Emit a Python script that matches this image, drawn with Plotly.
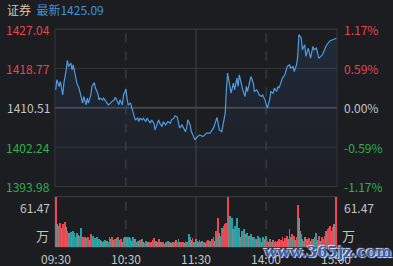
import plotly.graph_objects as go

# ---------------- data ----------------
price_minutes = [0,1,3,4,6,7,9,10,11,13,14,15,17,18,20,21,23,24,26,27,28,30,31,33,34,36,37,38,40,41,
                 43,44,45,47,48,50,51,52,54,55,57,58,60,61,62,64,65,67,68,70,71,72,74,75,77,78,79,81,82,84,
                 85,87,88,89,91,92,94,95,96,98,99,101,102,104,105,106,108,109,111,112,113,115,116,118,119,
                 120,123,126,128,129,132,135,138,139,140,142,143,145,146,147,149,150,152,153,155,156,157,159,
                 160,162,163,164,166,167,169,170,172,173,174,176,177,179,180,181,183,184,186,187,189,190,191,
                 193,194,196,197,198,200,201,203,204,206,207,208,210,211,213,214,216,217,218,220,221,223,224,
                 225,227,228,230,231,233,234,235,237,238,240]
prices = [1414.27,1416.38,1414.97,1416.02,1413.22,1415.68,1418.48,1420.44,1419.17,1419.89,1418.48,1419.53,
          1417.07,1415.68,1414.63,1413.58,1411.48,1412.87,1411.12,1412.53,1411.48,1413.22,1414.97,1415.81,
          1414.63,1413.58,1412.17,1412.53,1412.17,1412.53,1411.81,1411.48,1411.12,1411.48,1411.81,1412.17,
          1412.74,1412.17,1411.12,1412.17,1411.12,1413.22,1414.42,1412.53,1411.12,1411.48,1410.43,1409.02,
          1407.97,1408.32,1407.61,1408.32,1407.97,1408.32,1407.61,1408.32,1407.97,1407.27,1407.97,1407.27,
          1405.86,1407.61,1407.97,1407.27,1406.56,1407.61,1406.91,1407.27,1407.61,1407.27,1407.97,1408.32,
          1408.81,1408.53,1407.27,1406.22,1406.91,1406.43,1405.50,1406.22,1407.97,1406.91,1405.50,1404.45,
          1403.76,1404.12,1404.81,1404.45,1404.81,1405.17,1405.17,1406.28,1408.49,1407.27,1405.86,1405.50,
          1406.56,1409.37,1414.27,1417.79,1414.97,1413.58,1415.68,1414.27,1416.74,1414.97,1417.43,1415.33,
          1414.27,1412.87,1414.97,1413.92,1416.38,1417.07,1415.68,1413.92,1414.27,1413.58,1413.22,1412.87,
          1413.22,1412.17,1411.48,1410.43,1412.17,1413.92,1413.58,1414.63,1413.92,1414.97,1414.63,1416.02,
          1416.74,1417.43,1418.48,1419.17,1419.53,1418.84,1419.17,1418.12,1419.53,1421.28,1425.84,1425.15,
          1422.69,1423.74,1421.28,1423.04,1421.99,1420.94,1423.38,1422.69,1423.04,1421.64,1420.94,1421.28,
          1421.64,1422.69,1423.38,1424.10,1424.43,1424.64,1424.79,1424.94,1425.09]

volumes = [61.47,28,22,26,30,24,29,27,31,25,
           20,17,14,19,13,20,17,12,18,15,
           11,14,24,13,9,12,11,10,13,9,
           16,12,14,9,11,12,8,10,9,8,
           7,8,9,7,8,6,13,10,12,8,
           9,10,11,12,9,8,10,7,11,12,
           9,12,10,13,11,8,12,9,10,7,
           8,6,9,7,10,6,5,8,7,6,
           5,7,6,9,11,7,8,6,10,5,
           6,5,7,4,6,5,8,6,7,5,
           6,5,7,9,6,10,7,6,5,7,
           5,8,6,7,16,12,9,11,7,6,
           10,8,6,9,7,8,6,7,5,8,
           9,6,8,7,10,13,8,20,12,36,
           18,14,24,20,26,28,30,61.47,32,38,
           30,36,22,26,18,36,16,24,12,20,
           14,22,16,12,18,14,10,16,12,8,
           12,10,9,14,8,11,7,13,10,9,
           14,8,6,10,7,5,9,6,8,7,
           8,10,6,9,12,8,11,7,14,10,
           22,13,16,11,14,9,12,52,36,20,
           16,10,8,12,7,10,9,11,8,10,
           9,10,12,18,9,14,8,7,12,10,
           14,20,18,22,24,26,20,25,28,27,
           61.47]
vol_dir = [1,0,1,0,1,0,1,1,1,0,
           1,0,1,-1,0,-1,-1,1,-1,0,
           0,-1,-1,1,0,1,0,-1,1,0,
           1,1,-1,0,-1,-1,0,-1,-1,0,
           -1,0,-1,0,0,-1,1,0,1,0,
           0,1,0,1,-1,0,1,0,1,0,
           -1,-1,0,-1,-1,0,-1,-1,0,-1,
           -1,0,1,0,-1,0,-1,1,0,0,
           0,1,0,1,1,0,-1,0,1,0,
           0,-1,1,0,-1,0,1,0,-1,0,
           0,-1,1,0,1,-1,0,1,0,1,
           0,1,0,1,-1,-1,0,1,0,-1,
           0,-1,0,-1,0,0,-1,1,0,1,
           1,0,-1,0,1,1,0,1,0,1,
           0,-1,-1,1,1,1,1,1,0,-1,
           -1,-1,0,-1,0,-1,-1,-1,0,-1,
           -1,-1,0,-1,-1,0,-1,-1,0,-1,
           -1,-1,0,-1,0,-1,0,-1,-1,0,
           -1,1,0,1,0,1,0,1,0,1,
           0,1,0,1,1,0,1,0,1,0,
           -1,0,1,0,1,0,1,1,0,0,
           -1,0,-1,0,-1,1,0,1,0,-1,
           1,0,-1,-1,0,1,0,0,1,1,
           1,1,0,1,1,1,0,1,0,0,
           1]
vol_minutes = list(range(len(volumes)))

price_ticks = [1427.04, 1418.77, 1410.51, 1402.24, 1393.98]
pct_labels = ["1.17%", "0.59%", "0.00%", "-0.59%", "-1.17%"]
time_ticks = [0, 60, 120, 180, 240]
time_labels = ["09:30", "10:30", "11:30", "14:00", "15:00"]
vol_max = 61.47
last_price = 1425.09
name = "证券"

# ---------------- styles ----------------
BG = "#1c1d21"
RED = "#e8434b"
GREEN = "#2db14d"
GREY_TXT = "#c4c4c4"
GRID = "#36373c"
FONT = "Noto Sans CJK SC, Noto Sans, sans-serif"
dir_colors = {1: "#ec4650", -1: "#24a1a2", 0: "#8c8282"}

fig = go.Figure()
fig.add_trace(go.Scatter(
    x=price_minutes, y=prices, mode="lines",
    line=dict(color="#4f9be0", width=1.2),
    fill="tozeroy",
    fillgradient=dict(type="vertical",
                      colorscale=[[0, "rgba(50,100,170,0.02)"], [1, "rgba(60,120,200,0.16)"]],
                      start=price_ticks[-1], stop=price_ticks[0]),
    hoverinfo="skip", xaxis="x", yaxis="y"))
fig.add_trace(go.Bar(
    x=vol_minutes, y=volumes, marker=dict(color=[dir_colors[d] for d in vol_dir], line_width=0),
    width=0.8, xaxis="x2", yaxis="y2", hoverinfo="skip"))

xr = [-0.6, 240.6]
ax_off = dict(showgrid=False, zeroline=False, showticklabels=False, ticks="", showline=False)
fig.update_layout(
    width=393, height=266, paper_bgcolor=BG, plot_bgcolor=BG,
    margin=dict(l=55, r=56, t=29, b=19), showlegend=False, bargap=0,
    xaxis=dict(domain=[0, 1], range=xr, anchor="y", **ax_off),
    xaxis2=dict(domain=[0, 1], range=xr, anchor="y2", **ax_off),
    yaxis=dict(domain=[0.2775, 1], range=[price_ticks[-1], price_ticks[0]], **ax_off),
    yaxis2=dict(domain=[0, 0.2307], range=[0, vol_max], **ax_off),
    font=dict(family=FONT, size=12, color=GREY_TXT),
)

shapes = []
# price panel horizontal grid
for i, p in enumerate(price_ticks):
    mid = (i == 2)
    shapes.append(dict(type="line", xref="x domain", yref="y", x0=0, x1=1, y0=p, y1=p,
                       line=dict(color="#45464b" if mid else GRID, width=2 if mid else 1), layer="below"))
# vertical grid both panels
for t in time_ticks[1:-1]:
    solid = (t == 120)
    for yr in ("y domain", "y2 domain"):
        shapes.append(dict(type="line", xref="x", yref=yr, x0=t, x1=t, y0=0, y1=1,
                           line=dict(color="#3d3e43" if solid else "#45464b", width=1.2 if solid else 1,
                                     dash="solid" if solid else "dash"), layer="below"))
# borders
shapes.append(dict(type="rect", xref="x domain", yref="y domain", x0=0, x1=1, y0=0, y1=1,
                   line=dict(color=GRID, width=1), layer="below"))
shapes.append(dict(type="rect", xref="x2 domain", yref="y2 domain", x0=0, x1=1, y0=0, y1=1,
                   line=dict(color="#3c3d42", width=1), layer="below"))
fig.update_layout(shapes=shapes)

ann = []
lcolors = [RED, RED, GREY_TXT, GREEN, GREEN]
for p, pl, c in zip(price_ticks, pct_labels, lcolors):
    ann.append(dict(xref="paper", yref="y", x=0, y=p, text=f"{p:.2f}", showarrow=False,
                    xanchor="right", yanchor="middle", xshift=-3, font=dict(color=c, size=12)))
    ann.append(dict(xref="paper", yref="y", x=1, y=p, text=pl, showarrow=False,
                    xanchor="left", yanchor="middle", xshift=5, font=dict(color=c, size=12)))
for side, xa, sh in (("l", 0, -3), ("r", 1, 5)):
    anc = "right" if side == "l" else "left"
    ann.append(dict(xref="paper", yref="y2", x=xa, y=vol_max, text=f"{vol_max:.2f}", showarrow=False,
                    xanchor=anc, yanchor="top", xshift=sh, font=dict(color=GREY_TXT, size=12)))
    ann.append(dict(xref="paper", yref="y2", x=xa, y=0, text="万", showarrow=False,
                    xanchor=anc, yanchor="bottom", xshift=(-4 if side == "l" else 3),
                    font=dict(color=GREY_TXT, size=13)))
for t, lab in zip(time_ticks, time_labels):
    ann.append(dict(xref="x2", yref="paper", x=t, y=-(258.5 - 247) / 218, text=lab, showarrow=False,
                    xanchor="center", yanchor="middle", borderpad=0,
                    font=dict(color=GREY_TXT, size=12)))
ann.append(dict(xref="paper", yref="paper", x=-50 / 282, y=1 + 19 / 218, showarrow=False,
                xanchor="left", yanchor="middle",
                text=f"<span style='color:#d9c39f'>{name}</span>  "
                     f"<span style='color:#3f92de'>最新{last_price:.2f}</span>",
                font=dict(size=12)))
ann.append(dict(xref="paper", yref="paper", x=(327 - 55) / 282, y=-(252 - 247) / 218, showarrow=False,
                xanchor="center", yanchor="middle", text="<b>www.365jz.com</b>",
                font=dict(family="DejaVu Serif, serif", size=15, color="#3a5ea8",
                          shadow="1px 1px 1px #dfe8ff, -1px -1px 1px #dfe8ff")))
fig.update_layout(annotations=ann)

fig.write_html("out.html")
